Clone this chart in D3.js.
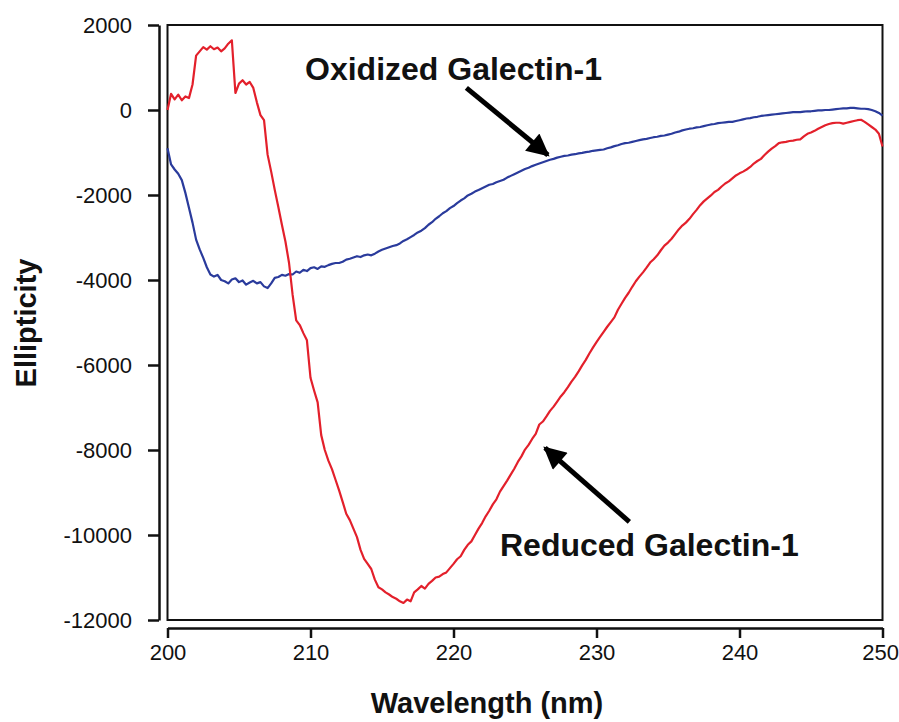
<!DOCTYPE html>
<html><head><meta charset="utf-8">
<script src="https://cdn.jsdelivr.net/npm/d3@7"></script>
<style>body{margin:0;background:#fff}svg{display:block}</style>
</head><body><svg id="c" width="899" height="722"></svg>
<script>
const xTicks = [200, 210, 220, 230, 240, 250];
const yTicks = [2000, 0, -2000, -4000, -6000, -8000, -10000, -12000];
const wavelengthStart = 200, wavelengthStep = 0.25;
const reduced = [
0,380,250,360,230,320,280,600,1280,1380,1480,1420,1500,1430,1470,1380,1450,1560,1640,400,
620,700,600,660,520,180,-120,-240,-1050,-1450,-1880,-2280,-2700,-3100,-3600,-4350,-4950,-5060,-5250,-5420,
-6300,-6600,-6880,-7650,-8000,-8250,-8450,-8700,-8950,-9220,-9500,-9650,-9850,-10050,-10350,-10560,-10680,-10800,-11050,-11230,
-11280,-11350,-11400,-11460,-11500,-11560,-11600,-11520,-11560,-11350,-11280,-11200,-11260,-11150,-11080,-11000,-10980,-10920,-10880,-10780,
-10680,-10570,-10500,-10350,-10230,-10150,-10000,-9850,-9720,-9560,-9430,-9280,-9160,-8980,-8850,-8720,-8580,-8440,-8280,-8150,
-7990,-7880,-7740,-7620,-7400,-7330,-7210,-7080,-6980,-6860,-6740,-6640,-6520,-6390,-6280,-6150,-6010,-5880,-5730,-5590,
-5460,-5340,-5220,-5100,-4990,-4880,-4700,-4560,-4420,-4300,-4160,-4030,-3920,-3820,-3710,-3590,-3510,-3420,-3300,-3190,
-3120,-3030,-2920,-2810,-2720,-2650,-2560,-2450,-2350,-2240,-2150,-2080,-2010,-1930,-1880,-1800,-1730,-1680,-1610,-1540,
-1490,-1450,-1400,-1340,-1260,-1200,-1150,-1060,-980,-910,-850,-780,-760,-750,-730,-720,-700,-690,-620,-560,
-530,-490,-440,-400,-360,-330,-310,-300,-300,-320,-300,-280,-260,-240,-230,-280,-340,-400,-460,-560,
-860];
const oxidized = [
-900,-1280,-1400,-1500,-1650,-1950,-2300,-2650,-3050,-3280,-3480,-3700,-3870,-3920,-3880,-4000,-4030,-4080,-3990,-3960,
-4050,-4010,-4110,-4060,-4020,-4080,-4050,-4150,-4190,-4080,-3950,-3930,-3880,-3900,-3860,-3870,-3800,-3830,-3760,-3790,
-3720,-3700,-3740,-3680,-3690,-3650,-3620,-3600,-3600,-3570,-3520,-3500,-3470,-3440,-3460,-3420,-3400,-3420,-3380,-3330,
-3290,-3260,-3230,-3200,-3180,-3140,-3080,-3040,-2990,-2940,-2880,-2840,-2780,-2700,-2640,-2560,-2500,-2430,-2380,-2310,
-2260,-2190,-2130,-2080,-2010,-1970,-1920,-1880,-1840,-1800,-1760,-1740,-1700,-1670,-1640,-1590,-1550,-1510,-1470,-1430,
-1390,-1360,-1320,-1290,-1260,-1230,-1200,-1170,-1150,-1120,-1100,-1080,-1070,-1050,-1040,-1020,-1010,-990,-980,-960,
-950,-940,-930,-900,-880,-850,-830,-800,-780,-770,-750,-730,-710,-690,-680,-660,-640,-630,-610,-600,
-580,-560,-530,-510,-480,-460,-440,-430,-410,-400,-380,-360,-340,-330,-310,-300,-290,-280,-280,-260,
-240,-220,-200,-190,-170,-160,-140,-130,-120,-110,-100,-90,-80,-70,-60,-50,-50,-50,-40,-30,
-30,-20,-10,-10,0,0,10,20,30,40,40,50,50,40,30,30,20,0,-30,-70,
-130];
const labels = ["Oxidized Galectin-1", "Reduced Galectin-1"];
// annotation anchor points in data units: [tailW, tailV, tipW, tipV]
const oxArrow = [220.9, 520, 226.6, -1060];
const redArrow = [232.3, -9690, 226.4, -7950];

const svg = d3.select("#c");
const L = 167.5, R = 882.5, T = 25, B = 620;
const x = d3.scaleLinear().domain([200, 250]).range([L, R]);
const y = d3.scaleLinear().domain([-12000, 2000]).range([B, T]);
const font = "'Liberation Sans', Arial, Helvetica, sans-serif";

// plot box
svg.append("rect").attr("x", L).attr("y", T).attr("width", R - L).attr("height", B - T)
  .attr("fill", "none").attr("stroke", "#111").attr("stroke-width", 2);

// y axis
const ya = svg.append("g").attr("transform", "translate(159,0)")
  .call(d3.axisLeft(y).tickValues(yTicks).tickSize(11).tickSizeOuter(0).tickPadding(16).tickFormat(d => String(d)));
ya.select(".domain").attr("stroke", "#111").attr("stroke-width", 2.5);
ya.selectAll(".tick line").attr("stroke", "#111").attr("stroke-width", 2.5);
ya.selectAll("text").attr("font-family", font).attr("font-size", 22).attr("fill", "#111");

// x axis
const xa = svg.append("g").attr("transform", "translate(0,628)")
  .call(d3.axisBottom(x).tickValues(xTicks).tickSize(10).tickSizeOuter(0).tickPadding(6).tickFormat(d => String(d)));
xa.select(".domain").attr("stroke", "#111").attr("stroke-width", 2.5);
xa.selectAll(".tick line").attr("stroke", "#111").attr("stroke-width", 2.5);
xa.selectAll("text").attr("font-family", font).attr("font-size", 22).attr("fill", "#111");
xa.selectAll(".tick").filter(d => d === 250).select("text").attr("text-anchor", "end").attr("dx", 16);

// axis titles
svg.append("text").attr("x", 487).attr("y", 713).attr("text-anchor", "middle")
  .attr("font-family", font).attr("font-weight", "bold").attr("font-size", 29).attr("fill", "#111")
  .text("Wavelength (nm)");
svg.append("text").attr("transform", "translate(36,323) rotate(-90)").attr("text-anchor", "middle")
  .attr("font-family", font).attr("font-weight", "bold").attr("font-size", 29).attr("fill", "#111")
  .text("Ellipticity");

// curves
const line = d3.line().x((d, i) => x(wavelengthStart + i * wavelengthStep)).y(d => y(d));
svg.append("path").datum(oxidized).attr("d", line).attr("fill", "none")
  .attr("stroke", "#2a3b9c").attr("stroke-width", 2.2).attr("stroke-linejoin", "round");
svg.append("path").datum(reduced).attr("d", line).attr("fill", "none")
  .attr("stroke", "#e3202b").attr("stroke-width", 2.2).attr("stroke-linejoin", "round");

// arrows
svg.append("defs").append("marker").attr("id", "ah").attr("viewBox", "0 0 10 10")
  .attr("refX", 9).attr("refY", 5).attr("markerWidth", 6).attr("markerHeight", 4.5)
  .attr("markerUnits", "strokeWidth").attr("orient", "auto")
  .append("path").attr("d", "M0,0 L10,5 L0,10 Z").attr("fill", "#000");
[oxArrow, redArrow].forEach(a => {
  svg.append("line").attr("x1", x(a[0])).attr("y1", y(a[1])).attr("x2", x(a[2])).attr("y2", y(a[3]))
    .attr("stroke", "#000").attr("stroke-width", 5).attr("marker-end", "url(#ah)");
});

// annotation labels
svg.append("text").attr("x", 305).attr("y", 80).attr("font-family", font).attr("font-weight", "bold")
  .attr("font-size", 32).attr("fill", "#111").text(labels[0]);
svg.append("text").attr("x", 500).attr("y", 556).attr("font-family", font).attr("font-weight", "bold")
  .attr("font-size", 32).attr("fill", "#111").text(labels[1]);
</script></body></html>
